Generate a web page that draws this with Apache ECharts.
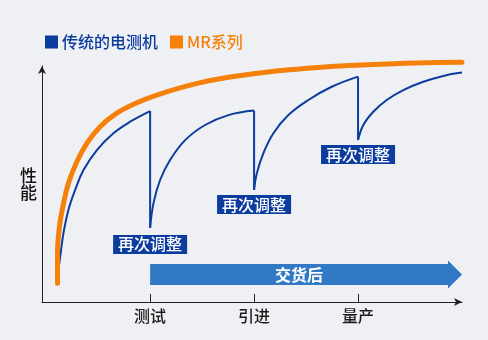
<!DOCTYPE html>
<html><head><meta charset="utf-8">
<script src="https://cdn.jsdelivr.net/npm/echarts@6/dist/echarts.min.js"></script>
<style>html,body{margin:0;padding:0;background:#eff0f3;}#c{width:488px;height:340px;}</style>
</head><body><div id="c"></div>
<script>
// ---- data ----
const seriesNames = ['传统的电测机', 'MR系列'];
const tickPositions = [1, 2, 3];
const tickLabels = ['测试', '引进', '量产'];
const yAxisName = '性能';

// MR系列 performance curve
const mrCurve = [[0.109,7.9],[0.109,20.6],[0.128,31.9],[0.161,40.4],[0.214,50.3],[0.295,59.4],[0.391,67.2],[0.519,74.3],[0.68,80.0],[0.872,84.4],[1.064,87.7],[1.433,92.4],[1.753,95.2],[2.234,98.0],[2.714,99.7],[3.019,100.4],[3.564,101.3],[4.0,101.6]];

// 传统的电测机: rising segments between adjustments
const tradSeg1 = [[0.112,12.0],[0.135,19.2],[0.166,29.1],[0.214,39.0],[0.279,47.5],[0.359,55.9],[0.488,64.4],[0.647,71.5],[0.808,76.4],[1.0,80.9]];
const tradSeg2 = [[1.0,31.4],[1.032,41.8],[1.096,51.7],[1.192,60.2],[1.337,68.6],[1.529,75.0],[1.753,79.2],[2.0,81.1]];
const tradSeg3 = [[2.0,47.5],[2.026,54.5],[2.089,63.0],[2.186,71.5],[2.33,79.2],[2.522,85.6],[2.747,91.2],[3.0,95.5]];
const tradSeg4 = [[3.0,68.6],[3.051,75.0],[3.147,80.6],[3.276,85.6],[3.436,89.8],[3.628,93.3],[3.82,95.8],[4.0,97.2]];
// drops at each adjustment: [x, top, bottom]
const tradDrops = [[1,80.9,31.4],[2,81.1,47.5],[3,95.5,68.6]];

// "再次调整" annotation positions
const adjustText = '再次调整';
const adjustPos = [[1,24.4],[2,41.3],[3,62.5]];

// "交货后" arrow: [startX, endX, y]
const deliveryText = '交货后';
const deliveryArrow = [[1.0, 4.0, 11.65]];

// ---- chart ----
const BLUE = '#0b3c9e', ORANGE = '#f5810a', ARROW = '#3179c5';
const chart = echarts.init(document.getElementById('c'));
const FONT = '"Noto Sans CJK SC", "Noto Sans", sans-serif';
const SMOOTH = 0.4;

const series = [];
[tradSeg1, tradSeg2, tradSeg3, tradSeg4].forEach(seg => {
  series.push({name: seriesNames[0], type: 'line', data: seg, smooth: SMOOTH, symbol: 'none',
    lineStyle: {color: BLUE, width: 2}, itemStyle: {color: BLUE}, clip: false, z: 3});
});
tradDrops.forEach(d => {
  series.push({name: seriesNames[0], type: 'line', data: [[d[0], d[1]], [d[0], d[2]]], symbol: 'none',
    lineStyle: {color: BLUE, width: 2}, itemStyle: {color: BLUE}, clip: false, z: 3});
});
series.push({name: seriesNames[1], type: 'line', data: mrCurve, smooth: SMOOTH, symbol: 'none',
  lineStyle: {color: ORANGE, width: 5, cap: 'round'}, itemStyle: {color: ORANGE}, clip: false, z: 4});

series.push({type: 'custom', silent: true, z: 5, clip: false, data: adjustPos,
  renderItem: function (params, api) {
    const p = api.coord([api.value(0), api.value(1)]);
    return {type: 'text', x: p[0], y: p[1], style: {text: adjustText, fill: '#fff', font: '500 16px ' + FONT,
      align: 'center', verticalAlign: 'middle', backgroundColor: BLUE, padding: [2, 5, 1, 5]}};
  }});

series.push({type: 'custom', silent: true, z: 2, clip: false, data: deliveryArrow,
  renderItem: function (params, api) {
    const a = api.coord([api.value(0), api.value(2)]);
    const b = api.coord([api.value(1), api.value(2)]);
    const h = 10.5, hh = 14, head = 14;
    const y = a[1];
    const pts = [[a[0], y - h], [b[0] - head, y - h], [b[0] - head, y - hh], [b[0], y],
      [b[0] - head, y + hh], [b[0] - head, y + h], [a[0], y + h]];
    return {type: 'group', children: [
      {type: 'polygon', shape: {points: pts}, style: {fill: ARROW}},
      {type: 'text', x: (a[0] + b[0] - head) / 2, y: y, style: {text: deliveryText, fill: '#fff',
        font: 'bold 16px ' + FONT, align: 'center', verticalAlign: 'middle'}}
    ]};
  }});

chart.setOption({
  backgroundColor: '#eff0f3',
  animation: false,
  legend: {left: 40, top: 29, icon: 'rect', itemWidth: 13, itemHeight: 13, itemGap: 12,
    data: [{name: seriesNames[0], textStyle: {color: BLUE}}, {name: seriesNames[1], textStyle: {color: ORANGE}}],
    textStyle: {fontSize: 16, fontWeight: 500, fontFamily: FONT, padding: [0, 0, 0, -1]}},
  grid: {left: 42, right: 26, top: 66, bottom: 38},
  xAxis: {type: 'value', min: -0.04, max: 4,
    axisLine: {onZero: false, lineStyle: {color: '#222', width: 1}, symbol: ['none', 'arrow'], symbolSize: [6, 8]},
    axisTick: {customValues: tickPositions, inside: true, length: 8, lineStyle: {color: '#222'}},
    axisLabel: {customValues: tickPositions, margin: 6, color: '#1a1a1a', fontSize: 16, fontWeight: 500, fontFamily: FONT,
      formatter: v => tickLabels[tickPositions.indexOf(v)] || ''},
    splitLine: {show: false}},
  yAxis: {type: 'value', min: 0, max: 100, name: yAxisName.split('').join('\n'), nameLocation: 'middle', nameGap: 5, nameRotate: 0,
    nameTextStyle: {color: '#111', fontSize: 17, fontWeight: 500, lineHeight: 17, fontFamily: FONT, padding: [0, 0, 14, 0]},
    axisLine: {show: true, onZero: false, lineStyle: {color: '#222', width: 1}, symbol: ['none', 'arrow'], symbolSize: [6, 8]},
    axisTick: {show: false}, axisLabel: {show: false}, splitLine: {show: false}},
  series: series
});
</script></body></html>
